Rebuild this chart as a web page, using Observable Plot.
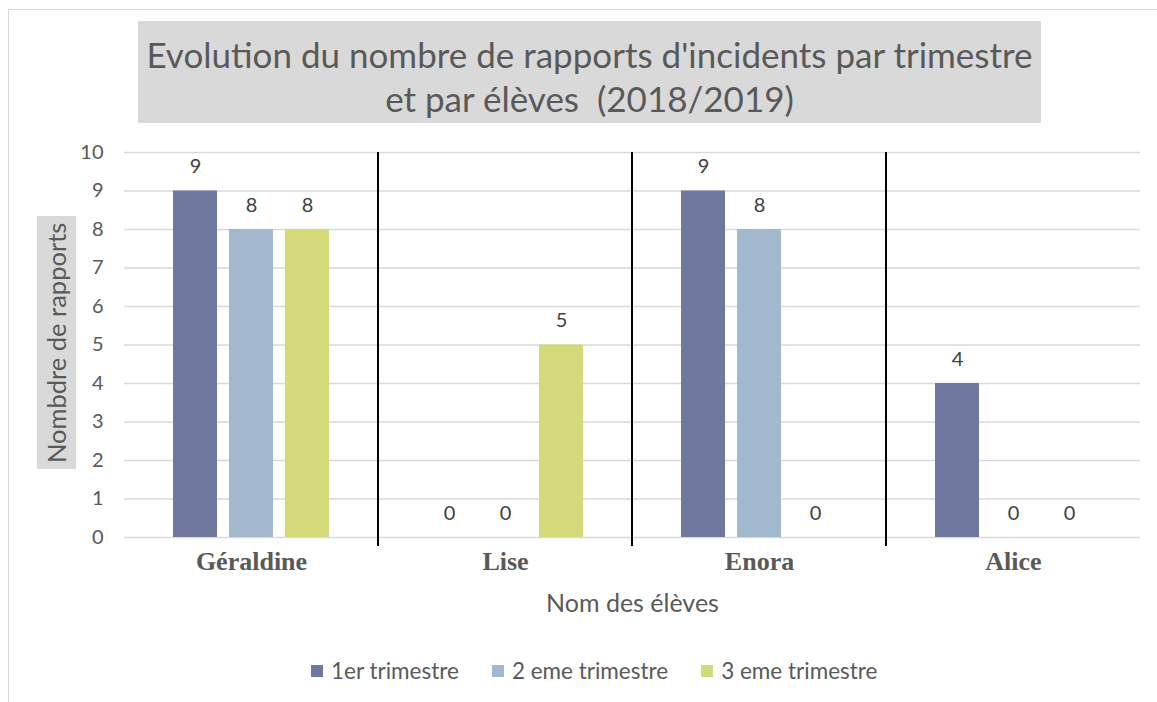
<!DOCTYPE html>
<html><head><meta charset="utf-8">
<script src="https://cdn.jsdelivr.net/npm/d3@7"></script>
<script src="https://cdn.jsdelivr.net/npm/@observablehq/plot@0.6"></script>
<style>
body{margin:0;width:1157px;height:702px;position:relative;overflow:hidden;background:#fff;font-family:Lato,"Open Sans",sans-serif;color:#595959;}
#frame{position:absolute;left:8px;top:9px;width:1160px;height:700px;border-left:1.5px solid #d9d9d9;border-top:1.5px solid #d9d9d9;}
#title{position:absolute;left:138px;top:21px;width:903px;height:102px;background:#d9d9d9;text-align:center;font-size:35px;line-height:44px;padding-top:11px;box-sizing:border-box;color:#595959;}
#ylabel{position:absolute;left:37px;top:216px;width:39px;height:253px;background:#d9d9d9;writing-mode:vertical-rl;transform:rotate(180deg);text-align:center;font-size:25.5px;line-height:39px;color:#595959;}
#chart{position:absolute;left:0;top:140px;}
#xlabel{position:absolute;left:0;width:1265px;top:587px;text-align:center;font-size:25px;color:#595959;}
#legend{position:absolute;left:311px;top:657px;display:flex;align-items:center;font-size:22.5px;color:#595959;}
.item{display:flex;align-items:center;margin-right:33px;}
.sw{width:12px;height:12px;margin-right:8px;}
</style></head><body>
<div id="frame"></div>
<div id="title">Evolution du nombre de rapports d'incidents par trimestre<br>et par élèves&nbsp; (2018/2019)</div>
<div id="ylabel">Nombdre de rapports</div>
<div id="chart"></div>
<div id="xlabel">Nom des élèves</div>
<div id="legend"></div>
<script>
const eleves = ["Géraldine", "Lise", "Enora", "Alice"];
const trimestres = ["1er trimestre", "2 eme trimestre", "3 eme trimestre"];
const trimestre1 = [9, 0, 9, 4];
const trimestre2 = [8, 0, 8, 0];
const trimestre3 = [8, 5, 0, 0];
const couleurs = ["#6f79a0", "#a1b8cf", "#d4da7a"];
const yTicks = [0, 1, 2, 3, 4, 5, 6, 7, 8, 9, 10];

const series = [trimestre1, trimestre2, trimestre3];
const data = eleves.flatMap((e, i) => series.map((s, j) => ({eleve: e, trimestre: trimestres[j], value: s[i]})));
const separateurs = eleves.slice(1);

const plot = Plot.plot({
  width: 1157, height: 450,
  marginTop: 12, marginBottom: 53, marginLeft: 124, marginRight: 17,
  style: {fontFamily: "Lato, 'Open Sans', sans-serif", background: "transparent"},
  fx: {domain: eleves, paddingInner: 0, paddingOuter: 0, label: null},
  x: {domain: trimestres, paddingInner: 0.221, paddingOuter: 0.86, axis: null},
  y: {domain: [0, 10]},
  color: {domain: trimestres, range: couleurs},
  marks: [
    Plot.gridY(yTicks, {stroke: "#d9d9d9", strokeOpacity: 1, strokeWidth: 1.4}),
    Plot.barY(data, {fx: "eleve", x: "trimestre", y: "value", fill: "trimestre"}),
    Plot.text(data, {fx: "eleve", x: "trimestre", y: "value", text: d => String(d.value), lineAnchor: "bottom", dy: -18, fontSize: 20, fill: "#404040"}),
    Plot.axisY(yTicks, {tickSize: 0, tickPadding: 21, fontSize: 20, fill: "#595959", tickFormat: d => String(d), label: null}),
    Plot.axisFx({anchor: "bottom", tickSize: 0, tickPadding: 14, fontSize: 26, fontWeight: "bold", fontFamily: "'Liberation Serif', serif", fill: "#595959", label: null}),
    Plot.ruleX(separateurs, {x: null, facet: "super", render(index, scales) {
      const g = d3.create("svg:g");
      const top = scales.y(10), bottom = scales.y(0) + 9;
      for (const i of index) {
        const xp = scales.fx(separateurs[i]);
        g.append("line").attr("x1", xp).attr("x2", xp).attr("y1", top).attr("y2", bottom)
          .attr("stroke", "#000").attr("stroke-width", 2);
      }
      return g.node();
    }})
  ]
});
document.getElementById("chart").appendChild(plot);

const legend = d3.select("#legend");
trimestres.forEach((t, j) => {
  const it = legend.append("div").attr("class", "item");
  it.append("div").attr("class", "sw").style("background", couleurs[j]);
  it.append("span").text(t);
});
</script>
</body></html>
